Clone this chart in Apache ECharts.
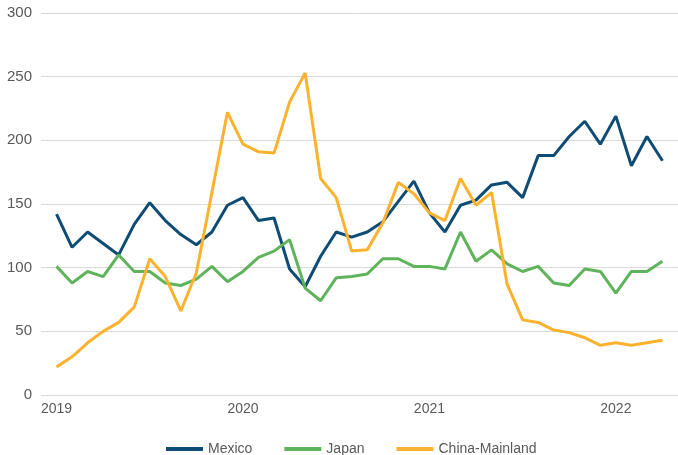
<!DOCTYPE html>
<html>
<head>
<meta charset="utf-8">
<script src="https://cdn.jsdelivr.net/npm/echarts@6/dist/echarts.min.js"></script>
<style>
  html, body { margin: 0; padding: 0; background: #fff; }
  #chart { width: 678px; height: 455px; }
</style>
</head>
<body>
<div id="chart"></div>
<script>
  // monthly, Jan 2019 .. Apr 2022
  const months = []
  for (let y = 2019; y <= 2022; y++) {
    for (let m = 1; m <= 12; m++) {
      if (y === 2022 && m > 4) break
      months.push(y + '-' + (m < 10 ? '0' + m : m))
    }
  }
  const yearTicks = ['2019', '2020', '2021', '2022']

  const mexico = [142, 116, 128, 119, 110, 134, 151, 137, 126, 118, 128, 149,
    155, 137, 139, 99, 85, 109, 128, 124, 128, 136, 152, 168,
    143, 128, 149, 153, 165, 167, 155, 188, 188, 203, 215, 197,
    219, 180, 203, 184]
  const japan = [101, 88, 97, 93, 110, 97, 97, 88, 86, 91, 101, 89,
    97, 108, 113, 122, 84, 74, 92, 93, 95, 107, 107, 101,
    101, 99, 128, 105, 114, 103, 97, 101, 88, 86, 99, 97,
    80, 97, 97, 105]
  const china = [22, 30, 41, 50, 57, 69, 107, 93, 66, 96, 159, 222,
    197, 191, 190, 230, 253, 170, 155, 113, 114, 135, 167, 158,
    143, 137, 170, 149, 159, 87, 59, 57, 51, 49, 45, 39,
    41, 39, 41, 43]

  const labelColor = '#595959'

  function pairs(arr) {
    return arr.map((v, i) => [i, v])
  }

  const myChart = echarts.init(document.getElementById('chart'))
  myChart.setOption({
    animation: false,
    textStyle: { fontFamily: 'Liberation Sans, Arial, sans-serif' },
    grid: {
      left: 41,
      right: 0,
      top: 13,
      bottom: 60
    },
    legend: {
      top: 437,
      left: 161,
      itemWidth: 37,
      itemHeight: 4,
      itemGap: 32,
      icon: 'rect',
      textStyle: { color: labelColor, fontSize: 14 },
      data: ['Mexico', 'Japan', 'China-Mainland']
    },
    xAxis: {
      type: 'value',
      min: -1,
      max: 40,
      splitLine: { show: false },
      axisLine: { show: false },
      axisTick: { show: false },
      axisLabel: {
        color: labelColor,
        fontSize: 14,
        margin: 7,
        customValues: [0, 12, 24, 36],
        formatter: function (v) {
          return yearTicks[Math.round(v / 12)] || ''
        }
      }
    },
    yAxis: {
      type: 'value',
      min: 0,
      max: 300,
      interval: 50,
      axisLine: { show: false },
      axisTick: { show: false },
      axisLabel: { color: labelColor, fontSize: 15, margin: 9 },
      splitLine: { lineStyle: { color: '#d9d9d9', width: 1 } }
    },
    series: [
      {
        name: 'Mexico',
        type: 'line',
        data: pairs(mexico),
        symbol: 'none',
        color: '#0e4c75',
        lineStyle: { width: 3, color: '#0e4c75' }
      },
      {
        name: 'Japan',
        type: 'line',
        data: pairs(japan),
        symbol: 'none',
        color: '#5fb35b',
        lineStyle: { width: 3, color: '#5fb35b' }
      },
      {
        name: 'China-Mainland',
        type: 'line',
        data: pairs(china),
        symbol: 'none',
        color: '#fcb22e',
        lineStyle: { width: 3, color: '#fcb22e' }
      }
    ]
  })
</script>
</body>
</html>
